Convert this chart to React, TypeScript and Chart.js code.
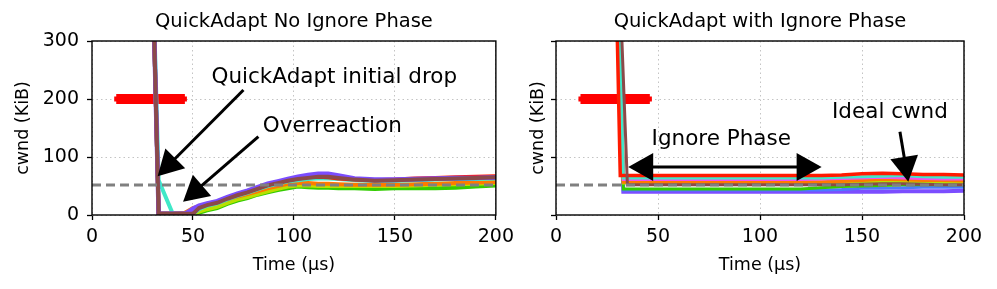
import React, { useEffect, useRef } from "react";
import { Chart, registerables } from "chart.js";

Chart.register(...registerables);

const FONT = "'DejaVu Sans', sans-serif";

// ---------- shared ----------
const xTickStep = 50;
const yTickStep = 100;
const xRange = [0, 200];
const yRange = [0, 300];
const idealCwnd = 51.7;
const rampTimes = [12, 46];
const rampLevel = 200;

// ---------- left panel: QuickAdapt No Ignore Phase ----------
const leftTitle = "QuickAdapt No Ignore Phase";
const leftTimes = [0, 29, 33, 40, 46, 48, 50, 53, 57, 62, 67, 72, 77, 82, 87, 92, 97, 102, 107, 112, 117, 122, 130, 140, 150, 160, 170, 180, 190, 200];
const leftGreen = [560, 560, 2, 2, 2, 2, 2, 4, 8, 12, 19, 25, 29, 35, 39, 43, 46, 49, 48, 47, 47, 46, 46, 45, 46, 46, 46, 47, 49, 51];
const leftYellow = [560, 560, 2, 2, 2, 2, 2, 6, 10, 14, 21, 27, 31, 36, 41, 45, 49, 51, 51, 50, 50, 50, 50, 50, 50, 51, 52, 53, 54, 55];
const leftOrange = [560, 560, 2, 2, 4, 8, 12, 15, 18, 21, 27, 32, 36, 41, 46, 50, 54, 55, 55, 54, 54, 53, 52, 52, 52, 53, 54, 55, 56, 57];
const leftTurquoise = [560, 560, 60, 2, 2, 2, 2, 10, 16, 20, 27, 33, 38, 44, 50, 54, 58, 60, 62, 63, 63, 62, 60, 59, 59, 60, 61, 62, 62, 63];
const leftBlue = [560, 560, 2, 2, 2, 4, 9, 15, 19, 23, 30, 36, 41, 47, 53, 57, 61, 64, 66, 68, 68, 65, 62, 60, 60, 61, 62, 63, 64, 64];
const leftRed = [560, 560, 2, 2, 2, 2, 5, 14, 19, 23, 30, 35, 40, 46, 52, 56, 60, 63, 65, 66, 65, 63, 61, 60, 61, 63, 64, 65, 66, 67];
const leftPurple = [560, 560, 2, 2, 2, 6, 11, 16, 20, 24, 31, 37, 42, 48, 54, 58, 62, 66, 69, 71, 71, 68, 63, 61, 61, 62, 63, 64, 64, 65];
const leftBrown = [560, 560, 2, 2, 2, 2, 2, 12, 17, 21, 28, 34, 39, 45, 51, 55, 59, 62, 64, 66, 66, 64, 61, 59, 60, 61, 62, 63, 64, 65];

const leftNotes = [
  { text: "QuickAdapt initial drop", x: 120, y: 238 },
  { text: "Overreaction", x: 119, y: 153 },
];
const leftArrows = [
  { from: [75, 215.5], to: [32.5, 67], both: false },
  { from: [82.4, 135], to: [45.1, 23], both: false },
];

// ---------- right panel: QuickAdapt with Ignore Phase ----------
const rightTitle = "QuickAdapt with Ignore Phase";
const rightTimes = [0, 28.5, 29.5, 31.5, 33, 35, 60, 90, 120, 130, 140, 150, 160, 170, 180, 190, 200];
const rightPurple = [560, 560, null, null, 40, 40, 40, 40, 40, 40, 40, 40, 40, 41, 41, 41, 42];
const rightBlue = [560, null, 560, null, 43, 43, 43, 43, 43, 43, 44, 46, 46, 47, 48, 48, 48];
const rightGreen = [560, null, 560, null, 45, 45, 45, 45, 45, 47, 49, 50, 51, 52, 52, 52, 52];
const rightYellow = [560, null, 560, null, 55, 55, 55, 55, 55, 55, 55, 56, 57, 57, 56, 56, 56];
const rightOrange = [560, null, 560, null, 57, 57, 57, 57, 57, 57, 58, 60, 62, 61, 60, 60, 59];
const rightPink = [560, null, 560, null, 61, 61, 61, 61, 61, 62, 63, 64, 65, 64, 63, 62, 62];
const rightTurquoise = [560, null, 560, null, 64, 64, 64, 64, 64, 64, 65, 66, 67, 68, 66, 65, 65];
const rightRed = [560, 560, null, 68, 68, 68, 68, 68, 68, 68, 69, 71, 72, 71, 70, 70, 69];
const rightBrown = [560, null, 560, null, null, 52, 52, 52, 52, 52, 52, 53, 54, 54, 53, 52, 52];

const rightNotes = [
  { text: "Ignore Phase", x: 81, y: 131 },
  { text: "Ideal cwnd", x: 163.7, y: 177.6 },
];
const rightArrows = [
  { from: [35.4, 82.8], to: [130.2, 82.8], both: true },
  { from: [168.6, 143.6], to: [172.7, 57.4], both: false },
];

const COLORS = {
  purple: "#7b4dff",
  blue: "#4a7bff",
  turquoise: "#40e8c8",
  green: "#33cc00",
  yellow: "#b8e000",
  orange: "#ff7a00",
  red: "#ff1a00",
  pink: "#f050f0",
  brown: "#8b4a4a",
};

type Note = { text: string; x: number; y: number };
type Arr = { from: number[]; to: number[]; both: boolean };

function pts(times: number[], vals: (number | null)[]) {
  const out: { x: number; y: number }[] = [];
  times.forEach((t, i) => {
    const v = vals[i];
    if (v !== null && v !== undefined) out.push({ x: t, y: v });
  });
  return out;
}

function series(times: number[], vals: (number | null)[], color: string, width: number) {
  return {
    data: pts(times, vals),
    borderColor: color,
    backgroundColor: color,
    borderWidth: width,
    pointRadius: 0,
    tension: 0,
    clip: 0,
  };
}

function drawArrow(ctx: CanvasRenderingContext2D, x1: number, y1: number, x2: number, y2: number, both: boolean) {
  const headLen = 25;
  const headW = 28;
  const dx = x2 - x1;
  const dy = y2 - y1;
  const L = Math.hypot(dx, dy);
  const ux = dx / L;
  const uy = dy / L;
  const px = -uy;
  const py = ux;
  const head = (tx: number, ty: number, dx0: number, dy0: number) => {
    const bx = tx - dx0 * headLen;
    const by = ty - dy0 * headLen;
    ctx.beginPath();
    ctx.moveTo(tx, ty);
    ctx.lineTo(bx + px * headW / 2, by + py * headW / 2);
    ctx.lineTo(bx - px * headW / 2, by - py * headW / 2);
    ctx.closePath();
    ctx.fill();
  };
  ctx.lineWidth = 3;
  ctx.beginPath();
  const sx = both ? x1 + ux * headLen * 0.8 : x1;
  const sy = both ? y1 + uy * headLen * 0.8 : y1;
  ctx.moveTo(sx, sy);
  ctx.lineTo(x2 - ux * headLen * 0.8, y2 - uy * headLen * 0.8);
  ctx.stroke();
  head(x2, y2, ux, uy);
  if (both) head(x1, y1, -ux, -uy);
}

function makeDecor(title: string, notes: Note[], arrows: Arr[]) {
  return {
    id: "decor",
    afterDatasetsDraw(chart: any) {
      const { ctx, chartArea } = chart;
      const xs = chart.scales.x;
      const ys = chart.scales.y;
      ctx.save();
      ctx.strokeStyle = "#000";
      ctx.lineWidth = 1.4;
      ctx.strokeRect(chartArea.left, chartArea.top, chartArea.right - chartArea.left, chartArea.bottom - chartArea.top);
      ctx.fillStyle = "#000";
      ctx.strokeStyle = "#000";
      arrows.forEach((a) => {
        drawArrow(
          ctx,
          xs.getPixelForValue(a.from[0]),
          ys.getPixelForValue(a.from[1]),
          xs.getPixelForValue(a.to[0]),
          ys.getPixelForValue(a.to[1]),
          a.both
        );
      });
      ctx.font = `21.5px ${FONT}`;
      ctx.textAlign = "center";
      ctx.textBaseline = "middle";
      notes.forEach((n) => {
        ctx.fillText(n.text, xs.getPixelForValue(n.x), ys.getPixelForValue(n.y));
      });
      ctx.font = `19.5px ${FONT}`;
      ctx.fillText(title, (chartArea.left + chartArea.right) / 2, chartArea.top - 19);
      ctx.restore();
    },
  };
}

function makeConfig(
  datasets: any[],
  title: string,
  notes: Note[],
  arrows: Arr[],
  yAxisWidth: number,
  rightPad: number,
  showYLabels: boolean,
  yTitlePad: number
) {
  const gridCommon = {
    color: "#c4c4c4",
    lineWidth: 1,
    tickColor: "#000",
    tickLength: 5,
    tickWidth: 1.3,
    drawTicks: true,
  };
  return {
    type: "line",
    data: { datasets },
    options: {
      animation: false,
      responsive: false,
      maintainAspectRatio: false,
      layout: { padding: { left: 0, right: rightPad, top: 41, bottom: 0 } },
      plugins: { legend: { display: false }, tooltip: { enabled: false }, title: { display: false } },
      scales: {
        x: {
          type: "linear",
          min: xRange[0],
          max: xRange[1],
          grid: gridCommon,
          border: { display: false, dash: [1.5, 3] },
          ticks: {
            stepSize: xTickStep,
            color: "#000",
            font: { family: FONT, size: 19 },
            padding: 6,
            maxRotation: 0,
          },
          title: {
            display: true,
            text: "Time (µs)",
            color: "#000",
            font: { family: FONT, size: 17.5 },
            padding: { top: 0, bottom: 13 },
          },
          afterFit(scale: any) {
            scale.height = 74;
          },
        },
        y: {
          type: "linear",
          min: yRange[0],
          max: yRange[1],
          grid: gridCommon,
          border: { display: false, dash: [1.5, 3] },
          ticks: {
            stepSize: yTickStep,
            color: "#000",
            font: { family: FONT, size: 19 },
            padding: 8,
            callback: (v: any) => (showYLabels ? String(v) : ""),
          },
          title: {
            display: true,
            text: "cwnd (KiB)",
            color: "#000",
            font: { family: FONT, size: 17.5 },
            padding: { top: yTitlePad, bottom: 0 },
          },
          afterFit(scale: any) {
            scale.width = yAxisWidth;
          },
        },
      },
    },
    plugins: [makeDecor(title, notes, arrows)],
  };
}

function refLine() {
  return {
    data: [
      { x: xRange[0], y: idealCwnd },
      { x: xRange[1], y: idealCwnd },
    ],
    borderColor: "#808080",
    borderWidth: 3,
    borderDash: [9, 5],
    pointRadius: 0,
    clip: 0,
  };
}

function rampBars() {
  return [
    {
      data: [
        { x: rampTimes[0], y: rampLevel },
        { x: rampTimes[1], y: rampLevel },
      ],
      borderColor: "#ff0000",
      borderWidth: 10,
      borderCapStyle: "butt",
      pointRadius: 0,
    },
    {
      data: [
        { x: rampTimes[0] - 1, y: rampLevel },
        { x: rampTimes[1] + 1, y: rampLevel },
      ],
      borderColor: "#ff0000",
      borderWidth: 5,
      borderCapStyle: "butt",
      pointRadius: 0,
    },
  ];
}

function Panel(props: { which: "left" | "right" }) {
  const ref = useRef<HTMLCanvasElement | null>(null);
  useEffect(() => {
    if (!ref.current) return;
    let cfg: any;
    if (props.which === "left") {
      const ds = [
        refLine(),
        series(leftTimes, leftBrown, COLORS.brown, 4),
        series(leftTimes, leftPurple, COLORS.purple, 4.5),
        series(leftTimes, leftRed, COLORS.red, 4),
        series(leftTimes, leftBlue, COLORS.blue, 4),
        series(leftTimes, leftTurquoise, COLORS.turquoise, 4),
        series(leftTimes, leftOrange, COLORS.orange, 4),
        series(leftTimes, leftYellow, COLORS.yellow, 4),
        series(leftTimes, leftGreen, COLORS.green, 4),
        ...rampBars(),
      ];
      cfg = makeConfig(ds, leftTitle, leftNotes, leftArrows, 92, 20, true, 13);
    } else {
      const ds = [
        refLine(),
        series(rightTimes, rightBrown, COLORS.brown, 3),
        series(rightTimes, rightRed, COLORS.red, 3.5),
        series(rightTimes, rightTurquoise, COLORS.turquoise, 3),
        series(rightTimes, rightPink, COLORS.pink, 3),
        series(rightTimes, rightOrange, COLORS.orange, 3.5),
        series(rightTimes, rightYellow, COLORS.yellow, 3),
        series(rightTimes, rightGreen, COLORS.green, 3),
        series(rightTimes, rightBlue, COLORS.blue, 3),
        series(rightTimes, rightPurple, COLORS.purple, 4),
        ...rampBars(),
      ];
      cfg = makeConfig(ds, rightTitle, rightNotes, rightArrows, 36, 33, false, 8);
    }
    const chart = new Chart(ref.current, cfg);
    return () => chart.destroy();
  }, [props.which]);
  const w = props.which === "left" ? 520 : 477;
  return (
    <canvas
      ref={ref}
      width={w}
      height={289}
      style={{ position: "absolute", top: 0, left: props.which === "left" ? 0 : 520, width: w, height: 289 }}
    />
  );
}

export default function App() {
  return (
    <div style={{ position: "absolute", top: 0, left: 0, width: 997, height: 289, background: "#fff" }}>
      <Panel which="left" />
      <Panel which="right" />
    </div>
  );
}
